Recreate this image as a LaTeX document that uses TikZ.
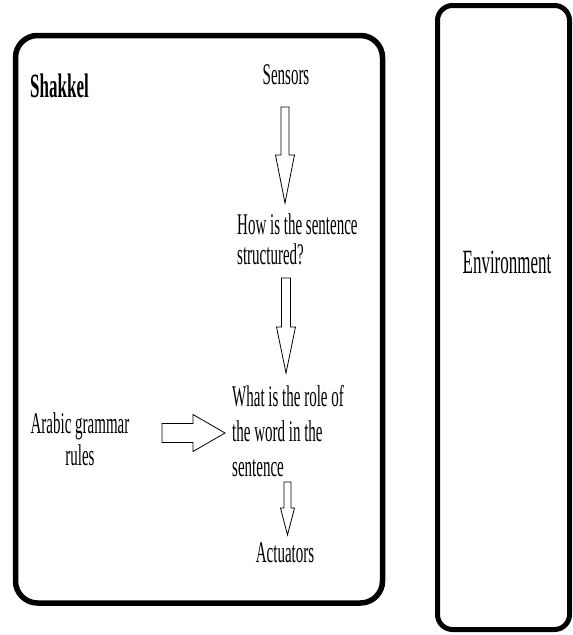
\documentclass[tikz,border=0pt]{standalone}
\usepackage{fontspec}
\setmainfont{Liberation Serif}[FakeStretch=0.5]
\usetikzlibrary{calc}

\tikzset{
  panel/.style={line width=5.5pt, rounded corners=22pt},
  arrowbox/.style={line width=0.8pt, fill=white},
  txt/.style={inner sep=0pt, font=\fontsize{30}{33}\selectfont},
  bigtxt/.style={inner sep=0pt, font=\fontsize{34}{38}\selectfont}
}

% hollow block arrow: from, to, shaft half width, head half width, head length
\newcommand{\blockarrow}[5]{%
  \coordinate (hb) at ($(#2)!#5!(#1)$);
  \draw [arrowbox] ($(#1)!#3!90:(#2)$) -- ($(hb)!#3!-90:(#1)$) -- ($(hb)!#4!-90:(#1)$)
    -- (#2) -- ($(hb)!#4!90:(#1)$) -- ($(hb)!#3!90:(#1)$) -- ($(#1)!#3!-90:(#2)$) -- cycle;}

\begin{document}
\begin{tikzpicture}[x=1pt, y=-1pt]
\useasboundingbox (0, 0) rectangle (573, 635);

\draw [panel] (15.5, 35.5) rectangle (382.5, 603);
\draw [panel, line width=5pt, rounded corners=15pt] (437.5, 5.5) rectangle (569.5, 629.5);

\node [bigtxt, anchor=base west, font=\fontsize{34}{38}\selectfont\bfseries] (shakkel) at (30, 97) {Shakkel};
\node [bigtxt, anchor=base] (env) at (507, 273) {Environment};

% multi-line nodes: base is the last line
\node [txt, anchor=base] (sensors) at (286, 84) {Sensors};
\node [txt, anchor=base west, align=left, font=\fontsize{30}{30}\selectfont] (how) at (237, 264) {How is the sentence\\structured?};
\node [txt, anchor=base west, align=left, font=\fontsize{30}{35}\selectfont] (role) at (232, 476) {What is the role of\\the word in the\\sentence};
\node [txt, anchor=base, align=center, font=\fontsize{30}{32}\selectfont] (rules) at (80, 465) {Arabic grammar\\rules};
\node [txt, anchor=base] (act) at (285, 562) {Actuators};

\coordinate (a1s) at (285, 107);
\coordinate (a1e) at (285, 203);
\coordinate (a2s) at (286, 278);
\coordinate (a2e) at (286, 373);
\coordinate (a3s) at (287.5, 482);
\coordinate (a3e) at (287.5, 535);
\coordinate (a4s) at (162, 433);
\coordinate (a4e) at (225, 433);

\blockarrow{a1s}{a1e}{4pt}{9.5pt}{48pt}
\blockarrow{a2s}{a2e}{4.5pt}{9.5pt}{46pt}
\blockarrow{a3s}{a3e}{3.5pt}{7pt}{27pt}
\blockarrow{a4s}{a4e}{9.5pt}{18.5pt}{32pt}
\end{tikzpicture}
\end{document}
